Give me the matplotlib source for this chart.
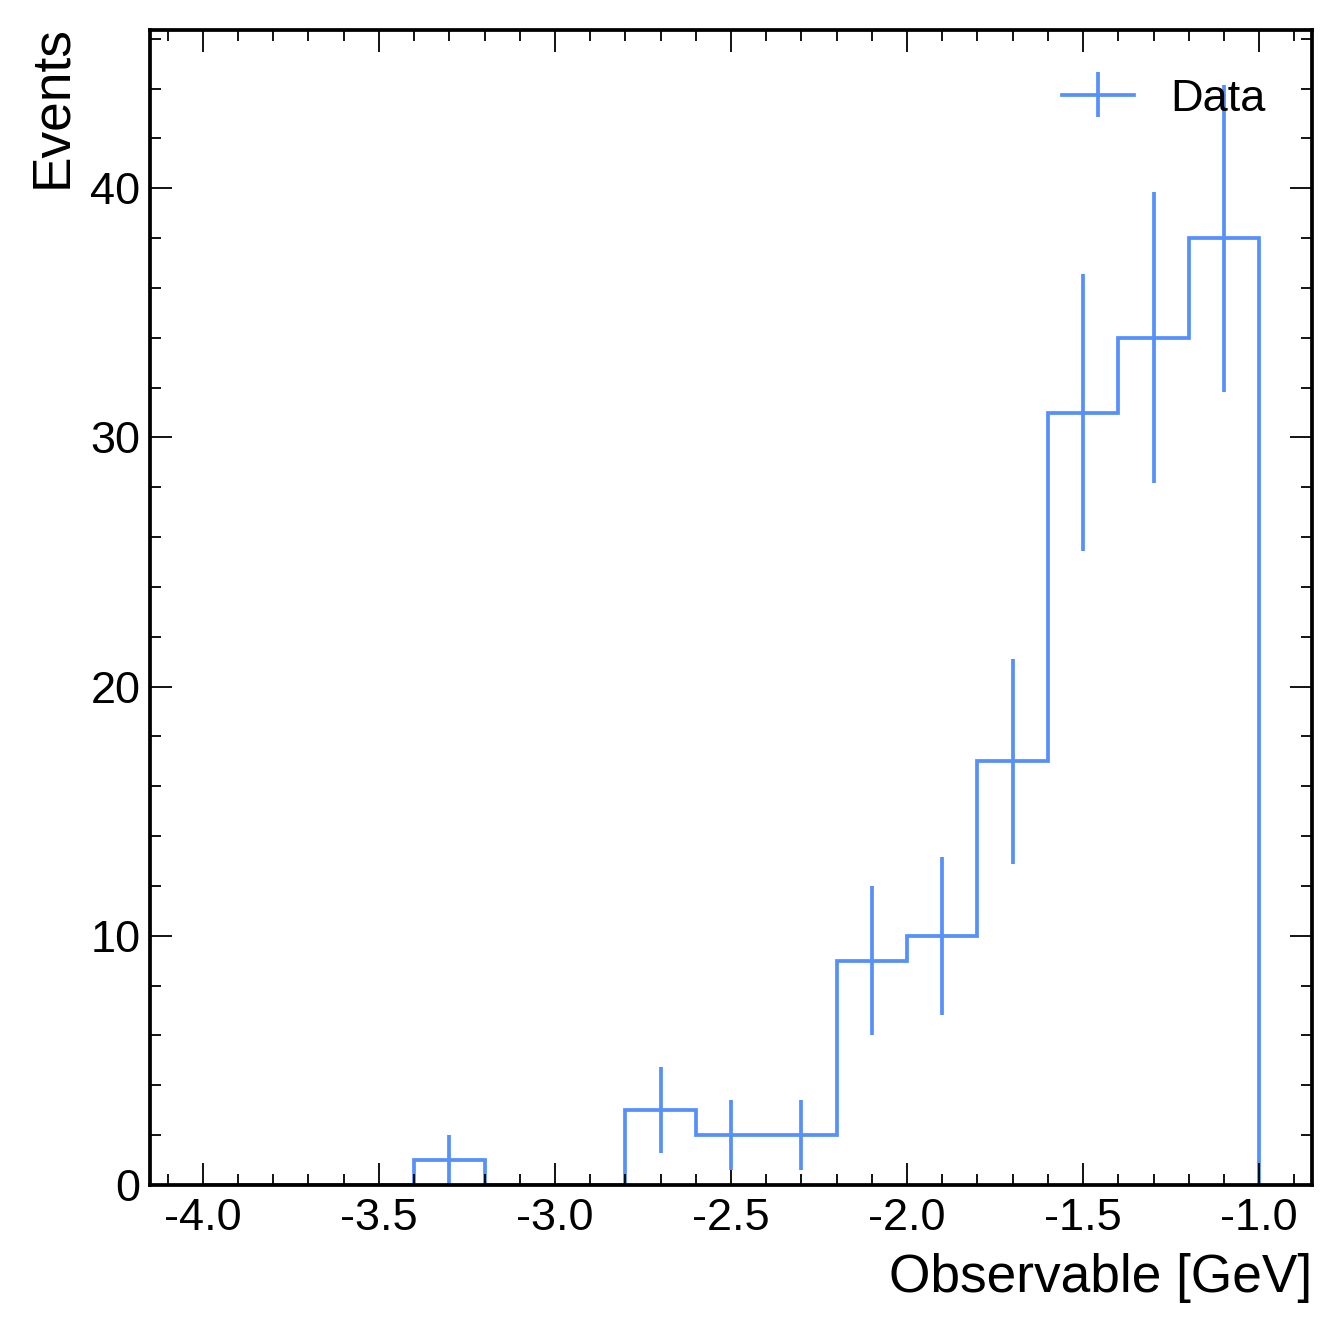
import numpy as np
import matplotlib
matplotlib.use("Agg")
import matplotlib.pyplot as plt
from matplotlib.ticker import MultipleLocator

# histogram: 15 bins of 0.2 between -4 and -1
bin_edges = [-4.0, -3.8, -3.6, -3.4, -3.2, -3.0, -2.8, -2.6, -2.4, -2.2,
             -2.0, -1.8, -1.6, -1.4, -1.2, -1.0]
counts = [0, 0, 0, 1, 0, 0, 3, 2, 2, 9, 10, 17, 31, 34, 38]
# error bars only on filled bins (Poisson)
err_centers = [-3.3, -2.7, -2.5, -2.3, -2.1, -1.9, -1.7, -1.5, -1.3, -1.1]
err_values = [1, 3, 2, 2, 9, 10, 17, 31, 34, 38]
err_sizes = [1.0, 1.73, 1.41, 1.41, 3.0, 3.16, 4.12, 5.57, 5.83, 6.16]

color = "#5790fc"

plt.rcParams['font.family'] = ['Liberation Sans', 'DejaVu Sans']
plt.rcParams['axes.unicode_minus'] = False

fig = plt.figure(figsize=(13.42, 13.35), dpi=100)
ax = fig.add_axes([150 / 1342, 150 / 1335, 1162 / 1342, 1155 / 1335])

ax.stairs(counts, bin_edges, color=color, linewidth=2.7, baseline=0)
ax.errorbar(err_centers, err_values, yerr=err_sizes, fmt='none',
            ecolor=color, elinewidth=2.7)
# legend proxy (cross)
ax.errorbar([np.nan], [np.nan], yerr=[1], color=color, linewidth=2.7,
            elinewidth=2.7, label='Data')

ax.set_xlim(-4.15, -0.85)
ax.set_ylim(0, 46.35)

ax.xaxis.set_major_locator(MultipleLocator(0.5))
ax.xaxis.set_minor_locator(MultipleLocator(0.1))
ax.yaxis.set_major_locator(MultipleLocator(10))
ax.yaxis.set_minor_locator(MultipleLocator(2))
ax.xaxis.set_major_formatter(plt.FormatStrFormatter('%.1f'))

ax.tick_params(which='both', direction='in', top=True, right=True)
ax.tick_params(which='major', length=16, width=1.3, labelsize=32.5)
ax.tick_params(which='minor', length=8, width=1.3)
ax.tick_params(axis='x', which='major', pad=9)
ax.tick_params(axis='y', which='major', pad=7)
for s in ax.spines.values():
    s.set_linewidth(2.7)

ax.set_xlabel('Observable [GeV]', fontsize=38.3, loc='right')
ax.set_ylabel('Events', fontsize=38.3, loc='top')
ax.xaxis.set_label_coords(1.0, -0.059)
ax.yaxis.set_label_coords(-0.0625, 1.004)

ax.legend(loc='upper right', frameon=False, fontsize=32.5,
          handlelength=1.6, handletextpad=0.8,
          bbox_to_anchor=(1 - 6 / 1162, 1 - 8 / 1155))

fig.savefig('out.png', dpi=100)
